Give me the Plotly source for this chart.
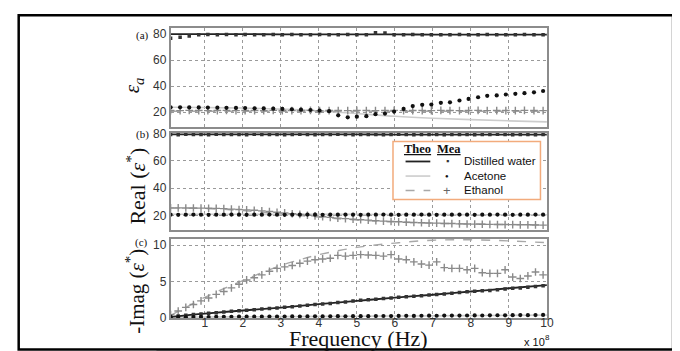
import plotly.graph_objects as go

W, H = 680, 351

# ---------------- data (frequency in units of 1e8 Hz) ----------------
FREQ_T = [0.1, 1, 2, 3, 4, 5, 6, 7, 8, 9, 10]
FREQ_E = [0.1, 0.5, 1, 1.5, 2, 2.5, 3, 3.5, 4, 5, 6, 7, 8, 9, 10]

FREQ_A = [0.10, 0.35, 0.59, 0.84, 1.08, 1.33, 1.57, 1.82, 2.06, 2.31, 2.55, 2.80, 3.04, 3.29,
          3.53, 3.78, 4.02, 4.27, 4.51, 4.76, 5.00, 5.25, 5.49, 5.74, 5.98, 6.23, 6.47, 6.72,
          6.96, 7.21, 7.45, 7.70, 7.94, 8.19, 8.43, 8.68, 8.92, 9.17, 9.41, 9.66, 9.90]

FREQ_BC = [0.1, 0.3, 0.5, 0.7, 0.9, 1.1, 1.3, 1.5, 1.7, 1.9, 2.1, 2.3, 2.5, 2.7, 2.9, 3.1, 3.3,
           3.5, 3.7, 3.9, 4.1, 4.3, 4.5, 4.7, 4.9, 5.1, 5.3, 5.5, 5.7, 5.9, 6.1, 6.3, 6.5, 6.7,
           6.9, 7.1, 7.3, 7.5, 7.7, 7.9, 8.1, 8.3, 8.5, 8.7, 8.9, 9.1, 9.3, 9.5, 9.7, 9.9]

# panel (a): eps_a
water_theo_a = [80.0, 79.9, 79.9, 79.8, 79.8, 79.7, 79.7, 79.6, 79.6, 79.5, 79.5]
acetone_theo_a = [23.8, 23.6, 23.2, 22.4, 21.0, 19.0, 16.9, 15.4, 14.3, 13.4, 12.6]
ethanol_theo_a = [20.8, 20.8, 20.8, 20.8, 20.8, 20.8, 20.7, 20.7, 20.7, 20.7, 20.7]
water_mea_a = [76.8, 77.6, 78.5, 79.5, 79.6, 79.5, 79.6, 79.4, 79.6, 79.5, 79.4, 79.6, 79.4, 79.6,
               79.5, 79.4, 79.6, 79.5, 79.4, 79.6, 79.5, 79.5, 80.9, 80.8, 79.5, 79.4, 79.6, 79.5,
               79.5, 79.4, 79.5, 79.6, 79.5, 79.4, 79.6, 79.5, 79.5, 79.4, 79.6, 79.5, 79.5]
acetone_mea_a = [23.8, 23.8, 23.7, 23.7, 23.6, 23.5, 23.4, 23.3, 23.2, 23.0, 22.9, 22.7, 22.5, 22.3,
                 22.0, 21.7, 21.2, 20.8, 17.6, 16.1, 16.6, 17.0, 18.5, 19.0, 20.5, 22.5, 24.7, 25.7,
                 25.9, 27.2, 27.6, 29.0, 30.2, 31.5, 32.6, 32.9, 33.6, 34.1, 34.6, 35.3, 36.3]
ethanol_mea_a = [21.3, 21.2, 21.4, 21.3, 21.2, 21.3, 21.4, 21.2, 21.3, 21.3, 21.2, 21.4, 21.3, 21.2,
                 21.3, 21.4, 21.2, 21.3, 21.3, 21.2, 21.4, 21.3, 21.2, 21.3, 21.4, 21.2, 21.3, 21.3,
                 21.2, 21.4, 21.3, 21.2, 21.3, 21.4, 21.2, 21.3, 21.3, 21.2, 21.4, 21.3, 21.2]

# panel (b): Real(eps*)
water_theo_b = [79.4, 79.4, 79.4, 79.3, 79.3, 79.3, 79.2, 79.2, 79.2, 79.1, 79.1]
acetone_theo_b = [20.9, 20.9, 20.9, 20.8, 20.8, 20.8, 20.7, 20.7, 20.6, 20.6, 20.5]
ethanol_theo_b = [25.4, 25.1, 23.6, 21.3, 18.8, 16.7, 15.3, 14.4, 13.8, 13.4, 13.1]
water_mea_b = [79.3, 79.1, 79.4, 79.2, 79.3, 79.1, 79.4, 79.2, 79.3, 79.2, 79.1, 79.4, 79.2, 79.3,
               79.2, 79.1, 79.3, 79.4, 79.2, 79.1, 79.3, 79.2, 79.4, 79.2, 79.1, 79.3, 79.2, 79.3,
               79.1, 79.2, 79.4, 79.2, 79.1, 79.3, 79.2, 79.3, 79.1, 79.2, 79.3, 79.2, 79.1, 79.3,
               79.2, 79.4, 79.2, 79.1, 79.3, 79.2, 79.1, 79.2]
acetone_mea_b = [20.6, 20.5, 20.6, 20.7, 20.6, 20.5, 20.6, 20.6, 20.7, 20.6, 20.5, 20.6, 20.6, 20.7,
                 20.6, 20.5, 20.6, 20.6, 20.7, 20.6, 20.5, 20.6, 20.6, 20.7, 20.6, 20.5, 20.6, 20.6,
                 20.7, 20.6, 20.5, 20.6, 20.6, 20.7, 20.6, 20.5, 20.6, 20.6, 20.7, 20.6, 20.5, 20.6,
                 20.6, 20.7, 20.6, 20.5, 20.6, 20.6, 20.7, 20.6]
ethanol_mea_b = [25.6, 25.6, 25.5, 25.5, 25.4, 25.3, 25.2, 25.0, 24.7, 24.4, 24.1, 23.8, 23.4, 22.9,
                 22.4, 21.9, 21.3, 20.8, 20.2, 19.7, 19.1, 18.6, 18.1, 17.7, 17.3, 16.9, 16.6, 16.2,
                 15.9, 15.6, 15.4, 15.1, 14.9, 14.7, 14.5, 14.4, 14.2, 14.1, 13.9, 13.8, 13.7, 13.6,
                 13.5, 13.4, 13.4, 13.3, 13.2, 13.2, 13.1, 13.0]

# panel (c): -Imag(eps*)
water_theo_c = [0.10, 0.55, 0.97, 1.38, 1.85, 2.30, 2.75, 3.15, 3.60, 4.05, 4.48]
acetone_theo_c = [0.05, 0.08, 0.10, 0.12, 0.15, 0.18, 0.20, 0.23, 0.26, 0.30, 0.33]
ethanol_theo_c = [0.3, 1.4, 2.8, 4.0, 5.1, 6.2, 7.2, 8.0, 8.7, 9.7, 10.3, 10.7, 10.75, 10.6, 10.35]
water_mea_c = [0.15, 0.22, 0.30, 0.42, 0.50, 0.60, 0.65, 0.75, 0.85, 0.92, 1.00, 1.08, 1.18, 1.25,
               1.33, 1.42, 1.50, 1.60, 1.70, 1.80, 1.88, 1.95, 2.08, 2.15, 2.30, 2.38, 2.45, 2.52,
               2.62, 2.70, 2.80, 2.86, 2.95, 3.02, 3.10, 3.20, 3.25, 3.35, 3.45, 3.55, 3.62, 3.70,
               3.75, 3.85, 3.95, 4.05, 4.10, 4.20, 4.30, 4.40]
acetone_mea_c = [0.05, 0.06, 0.05, 0.07, 0.08, 0.07, 0.09, 0.10, 0.09, 0.11, 0.12, 0.11, 0.12, 0.13,
                 0.12, 0.14, 0.15, 0.14, 0.15, 0.16, 0.15, 0.17, 0.18, 0.17, 0.18, 0.19, 0.18, 0.20,
                 0.21, 0.20, 0.22, 0.23, 0.22, 0.24, 0.25, 0.24, 0.26, 0.27, 0.26, 0.28, 0.29, 0.28,
                 0.30, 0.31, 0.30, 0.32, 0.33, 0.32, 0.34, 0.35]
ethanol_mea_c = [0.4, 0.9, 1.4, 1.8, 2.3, 2.7, 3.2, 3.6, 4.1, 4.6, 5.2, 5.5, 5.9, 6.4, 6.8, 7.0, 7.2,
                 7.5, 7.8, 8.0, 8.1, 8.2, 8.6, 8.5, 8.6, 8.7, 8.65, 8.6, 8.5, 8.7, 8.1, 8.0, 7.7, 7.4,
                 7.25, 7.7, 6.9, 6.8, 6.8, 6.6, 6.8, 6.2, 6.1, 6.1, 6.6, 5.6, 5.4, 5.75, 6.3, 5.9]

X_TICKS = [1, 2, 3, 4, 5, 6, 7, 8, 9, 10]
X_TICK_TEXT = ["1", "2", "3", "4", "5", "6", "7", "8", "9", "10"]
Y_TICKS_AB = [20, 40, 60, 80]
Y_TICKS_C = [0, 5, 10]

# ---------------- styles ----------------
C_WATER = "#222222"
C_ACET_LINE = "#cccccc"
C_ETH_LINE = "#a8a8a8"
C_ETH_MK = "#8a8a8a"
SERIF = "'Liberation Serif', 'Times New Roman', serif"
SANS = "Arial, 'Liberation Sans', sans-serif"


def px(x):
    return x / W


def py(y):
    return 1 - y / H


fig = go.Figure()


def add_panel(k, wt, at, et, wm, am, em, fm, fe=FREQ_T):
    xa = "x" if k == 1 else f"x{k}"
    ya = "y" if k == 1 else f"y{k}"
    fig.add_trace(go.Scatter(x=FREQ_T, y=at, mode="lines", xaxis=xa, yaxis=ya,
                             line=dict(color=C_ACET_LINE, width=1.6, shape="spline")))
    fig.add_trace(go.Scatter(x=fe, y=et, mode="lines", xaxis=xa, yaxis=ya,
                             line=dict(color=C_ETH_LINE, width=1.4, dash="dash", shape="spline")))
    fig.add_trace(go.Scatter(x=FREQ_T, y=wt, mode="lines", xaxis=xa, yaxis=ya,
                             line=dict(color=C_WATER, width=1.8, shape="spline")))
    fig.add_trace(go.Scatter(x=fm, y=em, mode="markers", xaxis=xa, yaxis=ya,
                             marker=dict(symbol="cross-thin-open", size=5.5, color=C_ETH_MK,
                                         line=dict(color=C_ETH_MK, width=1.4))))
    fig.add_trace(go.Scatter(x=fm, y=wm, mode="markers", xaxis=xa, yaxis=ya,
                             marker=dict(symbol="square", size=3.5, color="#333333")))
    fig.add_trace(go.Scatter(x=fm, y=am, mode="markers", xaxis=xa, yaxis=ya,
                             marker=dict(symbol="circle", size=4.2, color="#111111")))


add_panel(1, water_theo_a, acetone_theo_a, ethanol_theo_a, water_mea_a, acetone_mea_a,
          ethanol_mea_a, FREQ_A)
add_panel(2, water_theo_b, acetone_theo_b, ethanol_theo_b, water_mea_b, acetone_mea_b,
          ethanol_mea_b, FREQ_BC)
add_panel(3, water_theo_c, acetone_theo_c, ethanol_theo_c, water_mea_c, acetone_mea_c,
          ethanol_mea_c, FREQ_BC, fe=FREQ_E)

X_DOM = [px(164.3), px(544.5)]
axis_common = dict(showline=True, mirror=True, linecolor="#8c8c8c", linewidth=1.5,
                   showgrid=True, gridcolor="#9a9a9a", griddash="dot", gridwidth=1,
                   zeroline=False, ticks="", tickfont=dict(family=SANS, size=12, color="#333333"))

layout = dict(
    width=W, height=H, margin=dict(l=0, r=0, t=0, b=0),
    paper_bgcolor="white", plot_bgcolor="white", showlegend=False,
    xaxis=dict(domain=X_DOM, range=[0.1, 10], anchor="y", tickvals=X_TICKS,
               showticklabels=False, **axis_common),
    xaxis2=dict(domain=X_DOM, range=[0.1, 10], anchor="y2", tickvals=X_TICKS,
                showticklabels=False, **axis_common),
    xaxis3=dict(domain=X_DOM, range=[0.1, 10], anchor="y3", tickvals=X_TICKS,
                ticktext=X_TICK_TEXT, showticklabels=True, ticklabelstandoff=-7,
                **axis_common),
    yaxis=dict(domain=[py(117.5), py(14)], range=[8.3, 85], anchor="x",
               tickvals=Y_TICKS_AB, **axis_common),
    yaxis2=dict(domain=[py(223.5), py(122.7)], range=[9.5, 80.7], anchor="x2",
                tickvals=Y_TICKS_AB, **axis_common),
    yaxis3=dict(domain=[py(315), py(232.7)], range=[-0.1, 10.9], anchor="x3",
                tickvals=Y_TICKS_C, **axis_common),
)
fig.update_layout(**layout)

ann = []


def text(x, y, t, size, family=SERIF, angle=0, xanchor="center", color="#111111"):
    ann.append(dict(x=px(x), y=py(y), xref="paper", yref="paper", text=t, showarrow=False,
                    font=dict(family=family, size=size, color=color), textangle=angle,
                    xanchor=xanchor, yanchor="middle"))


# panel letters
text(136, 22.5, "(a)", 11)
text(135.5, 125, "(b)", 11)
text(135, 236.5, "(c)", 11)
# y titles
text(127, 74, "<i>ε</i><sub><i>a</i></sub>", 21, angle=-90)
text(129, 178, "Real (<i>ε</i><sup>*</sup>)", 22, angle=-90)
text(129, 287, "-Imag (<i>ε</i><sup>*</sup>)", 21, angle=-90)
# x title
text(354, 335.5, "Frequency (Hz)", 22)
text(519, 340, "x 10", 11, family=SANS, xanchor="left")
text(540.5, 334.5, "8", 8, family=SANS, xanchor="left")

# legend
text(414.2, 139.5, "<b><u>Theo</u></b>", 12.5)
text(445.5, 139.5, "<b><u>Mea</u></b>", 12.5)
text(444, 152.7, "▪", 9, family=SANS, color="#333333")
text(444, 167.5, "●", 6, family=SANS)
text(444, 182.5, "+", 13, family=SANS, color="#666666")
text(459, 152.7, "Distilled water", 11.5, family=SANS, xanchor="left")
text(459, 167.5, "Acetone", 11.5, family=SANS, xanchor="left")
text(459, 182.5, "Ethanol", 11.5, family=SANS, xanchor="left")
fig.update_layout(annotations=ann)

shapes = [
    dict(type="rect", xref="paper", yref="paper", x0=px(389), x1=px(538), y0=py(192), y1=py(132),
         line=dict(color="#f2ab7c", width=1.5), fillcolor="white", layer="above"),
    dict(type="line", xref="paper", yref="paper", x0=px(401.7), x1=px(426.7), y0=py(152.7),
         y1=py(152.7), line=dict(color=C_WATER, width=1.8), layer="above"),
    dict(type="line", xref="paper", yref="paper", x0=px(401.7), x1=px(426.7), y0=py(167.8),
         y1=py(167.8), line=dict(color=C_ACET_LINE, width=1.6), layer="above"),
    dict(type="line", xref="paper", yref="paper", x0=px(401.7), x1=px(426.7), y0=py(182.7),
         y1=py(182.7), line=dict(color=C_ETH_LINE, width=1.4, dash="dash"), layer="above"),
    # outer frame
    dict(type="rect", xref="paper", yref="paper", x0=px(10.8), x1=px(672), y0=py(347.3),
         y1=py(1.2), line=dict(color="black", width=2.5), layer="above"),
    dict(type="rect", xref="paper", yref="paper", x0=px(113), x1=px(150), y0=py(351),
         y1=py(348.7), line=dict(width=0), fillcolor="#bdbdbd", layer="above"),
]
fig.update_layout(shapes=shapes)

fig.write_html("out.html")
